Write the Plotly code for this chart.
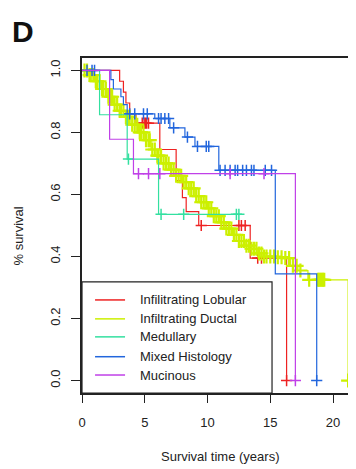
import numpy as np
import plotly.graph_objects as go

# ---------------- data ----------------
group_names = ["Infilitrating Lobular", "Infiltrating Ductal", "Medullary",
               "Mixed Histology", "Mucinous"]

lobular_time = [0, 3.0, 3.3, 3.5, 3.8, 4.3, 6.2, 7.5, 8.0, 8.3, 9.3, 13.4, 16.3]
lobular_surv = [1.0, 0.965, 0.93, 0.895, 0.86, 0.83, 0.745, 0.645, 0.59, 0.545, 0.50, 0.395, 0.0]
lobular_cens = [4.8, 4.95, 5.05, 5.15, 5.3, 9.5, 12.5, 12.7, 13.0, 14.0, 14.3, 16.3]

ductal_time = [0, 0.5, 1.0, 1.5, 2.0, 2.5, 3.0, 3.5, 4.0, 4.5, 5.0, 5.5, 6.0, 6.5,
               7.0, 7.5, 8.0, 8.5, 9.0, 9.5, 10.0, 10.5, 11.0, 11.5, 12.0, 12.5,
               13.0, 13.5, 14.0, 14.5, 15.5, 16.0, 16.6, 17.2, 18.0, 21.2]
ductal_surv = [1.0, 0.985, 0.965, 0.94, 0.915, 0.89, 0.87, 0.85, 0.825, 0.80, 0.775,
               0.745, 0.725, 0.70, 0.68, 0.66, 0.64, 0.62, 0.595, 0.575, 0.555, 0.53,
               0.51, 0.49, 0.47, 0.45, 0.435, 0.425, 0.41, 0.40, 0.398, 0.395, 0.37,
               0.355, 0.325, 0.0]
ductal_cens = [0.2, 0.4, 0.6, 0.7, 0.9, 1.1, 1.2, 1.4, 1.6, 1.7, 1.9, 2.1, 2.3, 2.4,
               2.6, 2.8, 3.0, 3.1, 3.3, 3.5, 3.7, 3.8, 4.0, 4.2, 4.4, 4.6, 4.7, 4.9,
               5.1, 5.3, 5.4, 5.6, 5.8, 6.0, 6.1, 6.3, 6.5, 6.7, 6.9, 7.1, 7.3, 7.5,
               7.7, 7.9, 8.1, 8.3, 8.5, 8.7, 8.9, 9.1, 9.3, 9.5, 9.7, 9.9, 10.1, 10.3,
               10.5, 10.7, 10.9, 11.1, 11.3, 11.5, 11.7, 11.9, 12.1, 12.3, 12.5, 12.7,
               12.9, 13.1, 13.3, 13.5, 13.7, 13.9, 14.1, 14.3, 14.5, 14.7, 15.0, 15.3,
               15.6, 15.9, 16.2, 16.5, 16.8, 17.1, 17.4, 18.1, 18.8, 18.9, 19.0, 19.1,
               19.2, 19.3, 21.2]

medullary_time = [0, 1.4, 3.6, 6.1]
medullary_surv = [1.0, 0.857, 0.714, 0.536]
medullary_cens = [3.7, 6.3, 8.1, 12.3, 12.5]

mixed_time = [0, 2.3, 2.5, 3.1, 3.3, 3.6, 5.8, 7.0, 8.2, 9.0, 10.9, 15.4, 18.7]
mixed_surv = [1.0, 0.97, 0.94, 0.915, 0.89, 0.86, 0.845, 0.815, 0.785, 0.755, 0.678, 0.344, 0.0]
mixed_cens = [0.4, 0.8, 1.0, 3.8, 4.2, 4.9, 5.2, 6.1, 6.3, 6.6, 6.9, 7.3, 8.4, 9.2,
              9.9, 10.1, 11.0, 11.4, 11.8, 12.2, 12.4, 12.8, 13.1, 13.5, 13.7, 14.6,
              15.1, 18.7]

mucinous_time = [0, 2.2, 4.1, 17.0]
mucinous_surv = [1.0, 0.778, 0.667, 0.0]
mucinous_cens = [4.5, 5.3, 6.2, 11.8, 14.5, 17.0]

x_ticks = [0, 5, 10, 15, 20]
y_ticks = [0.0, 0.2, 0.4, 0.6, 0.8, 1.0]
y_tick_text = ["0.0", "0.2", "0.4", "0.6", "0.8", "1.0"]

# ---------------- styles ----------------
colors = ["#ee2222", "#ccf000", "#33e0a0", "#2266dd", "#c040e8"]
groups = [
    (lobular_time, lobular_surv, lobular_cens),
    (ductal_time, ductal_surv, ductal_cens),
    (medullary_time, medullary_surv, medullary_cens),
    (mixed_time, mixed_surv, mixed_cens),
    (mucinous_time, mucinous_surv, mucinous_cens),
]

FONT = "Liberation Sans, Arial, sans-serif"
fig = go.Figure()

for (t, s, c), col, name in zip(groups, colors, group_names):
    t_arr = np.array(t, dtype=float)
    s_arr = np.array(s, dtype=float)
    end = max(t_arr.max(), max(c))
    lx = list(t_arr) + [end]
    ly = list(s_arr) + [s_arr[-1]]
    fig.add_trace(go.Scatter(x=lx, y=ly, mode="lines", line=dict(color=col, width=1.2, shape="hv"),
                             name=name, showlegend=False, hoverinfo="skip"))
    c_arr = np.array(c, dtype=float)
    idx = np.searchsorted(t_arr, c_arr, side="right") - 1
    cy = s_arr[idx]
    big = name == "Infiltrating Ductal"
    fig.add_trace(go.Scatter(x=c_arr, y=cy, mode="markers",
                             marker=dict(symbol="cross-thin-open", size=10 if big else 8,
                                         color=col,
                                         line=dict(color=col, width=2.2 if big else 1.5)),
                             showlegend=False, hoverinfo="skip"))

# ---------------- manual legend (R style, bottom-left) ----------------
shapes = [dict(type="rect", xref="x", yref="y", x0=0, x1=15.14, y0=-0.04, y1=0.318,
               line=dict(color="#222", width=1.2), fillcolor="white", layer="above")]
row_y = [0.26, 0.199, 0.141, 0.077, 0.018]
annotations = []
for name, col, ry in zip(group_names, colors, row_y):
    shapes.append(dict(type="line", xref="x", yref="y", x0=1.04, x1=3.43, y0=ry, y1=ry,
                       line=dict(color=col, width=1.5), layer="above"))
    annotations.append(dict(x=4.46, y=ry, xref="x", yref="y", text=name, showarrow=False,
                            xanchor="left", yanchor="middle",
                            font=dict(family=FONT, size=13, color="#222")))

annotations += [
    dict(x=-0.262, y=1.078, xref="paper", yref="paper", text="<b>D</b>", showarrow=False,
         xanchor="left", yanchor="middle", font=dict(family=FONT, size=30, color="#111")),
    dict(x=-0.23, y=0.47, xref="paper", yref="paper", text="% survival", showarrow=False,
         textangle=-90, xanchor="center", yanchor="middle",
         font=dict(family=FONT, size=13, color="#222")),
    dict(x=0.504, y=-0.19, xref="paper", yref="paper", text="Survival time (years)",
         showarrow=False, xanchor="center", yanchor="middle",
         font=dict(family=FONT, size=13, color="#222")),
]

# page body has an 8px margin, so the figure is 8px smaller and offset accordingly
fig.update_layout(
    width=348, height=461,
    margin=dict(l=74, r=0, t=50, b=76),
    paper_bgcolor="white", plot_bgcolor="white",
    shapes=shapes, annotations=annotations,
    showlegend=False,
    xaxis=dict(range=[0, 21.83], tickvals=x_ticks, ticks="outside", ticklen=8, tickwidth=1.2,
               tickcolor="#222", showline=True, linecolor="#222", linewidth=1.5, mirror=True,
               showgrid=False, zeroline=False, ticklabelstandoff=9,
               tickfont=dict(family=FONT, size=13, color="#222")),
    yaxis=dict(range=[-0.04, 1.04], tickvals=y_ticks, ticktext=y_tick_text, ticks="outside",
               ticklen=9, tickwidth=1.2, tickcolor="#222", showline=True, linecolor="#222",
               linewidth=1.5, mirror=False, showgrid=False, zeroline=False, tickangle=-90,
               ticklabelstandoff=6, tickfont=dict(family=FONT, size=13, color="#222")),
)

fig.write_html("out.html")
